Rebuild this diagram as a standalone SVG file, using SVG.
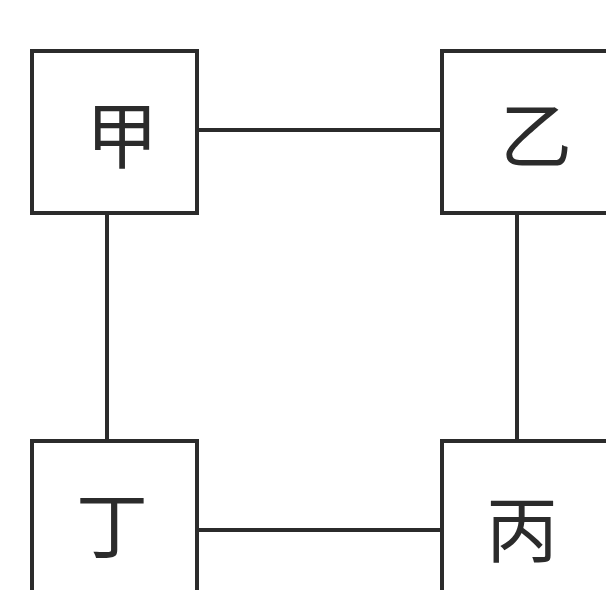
<svg xmlns="http://www.w3.org/2000/svg" width="606" height="590" viewBox="0 0 606 590">
<style>
.box{fill:#fff;stroke:#2b2b2b;stroke-width:4}
.edge{stroke:#2b2b2b;stroke-width:4;fill:none}
.lbl{font-family:"Noto Sans CJK SC","Noto Sans CJK JP",sans-serif;font-size:72px;font-weight:400;fill:#2b2b2b;text-anchor:middle;dominant-baseline:central}
</style>
<rect width="606" height="590" fill="#fff"/>
<g id="connectors">
<line class="edge" x1="197" y1="130" x2="442" y2="130"/>
<line class="edge" x1="197" y1="530" x2="442" y2="530"/>
<line class="edge" x1="107" y1="213" x2="107" y2="440"/>
<line class="edge" x1="517" y1="213" x2="517" y2="440"/>
</g>
<g id="jia"><rect class="box" x="32" y="51" width="165" height="162"/><text class="lbl" x="122" y="130">甲</text></g>
<g id="yi"><rect class="box" x="442" y="51" width="168" height="162"/><text class="lbl" x="536" y="130">乙</text></g>
<g id="ding"><rect class="box" x="32" y="441" width="165" height="160"/><text class="lbl" x="112" y="520">丁</text></g>
<g id="bing"><rect class="box" x="442" y="441" width="168" height="160"/><text class="lbl" x="522" y="524">丙</text></g>
</svg>
